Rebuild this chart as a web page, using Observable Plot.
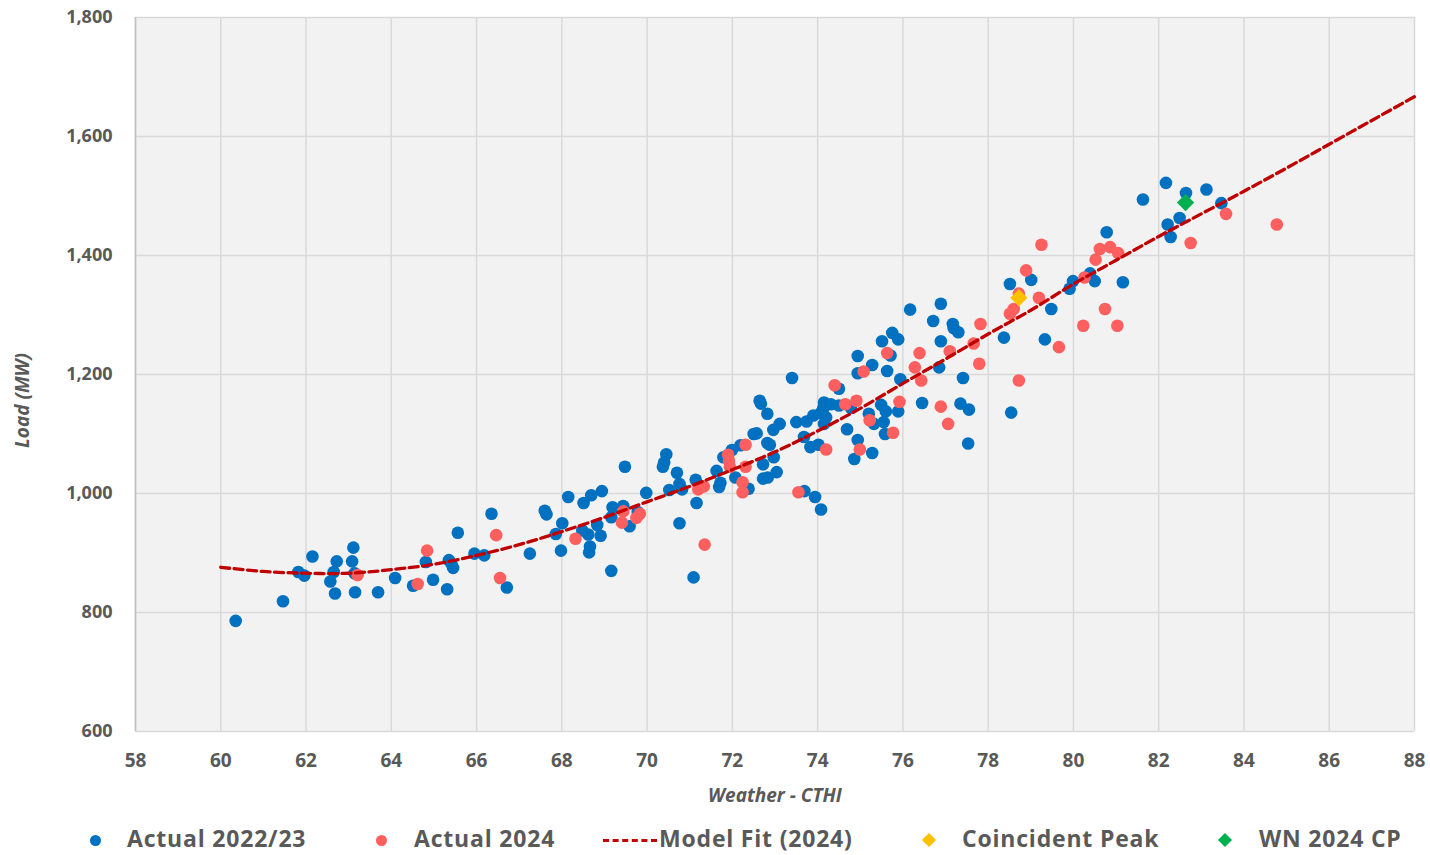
<!DOCTYPE html>
<html><head><meta charset="utf-8">
<script src="https://cdn.jsdelivr.net/npm/d3@7"></script>
<script src="https://cdn.jsdelivr.net/npm/@observablehq/plot@0.6"></script>
<style>
body{margin:0;background:#fff;}
#wrap{position:relative;width:1430px;height:855px;font-family:"Liberation Sans Narrow","Open Sans",sans-serif;}
#legend{position:absolute;left:0;top:815px;width:1430px;height:40px;}
.lt{position:absolute;top:8px;height:31px;line-height:31px;font-size:23px;letter-spacing:0.8px;font-weight:bold;color:#595959;white-space:nowrap;}
.lm{position:absolute;}
</style>
</head><body>
<div id="wrap"><div id="chart"></div><div id="legend"></div></div>
<script>
// Actual 2022/23
const a22x = [60.35,61.46,61.82,61.96,62.15,62.72,62.65,62.57,62.68,63.11,63.08,63.14,63.15,63.69,64.09,64.51,64.81,64.98,65.31,65.35,65.41,65.45,65.56,65.95,66.18,66.35,66.71,67.25,67.60,67.64,67.86,68.01,67.98,68.15,68.51,68.69,68.94,68.48,68.62,68.83,68.91,68.66,68.64,69.16,69.19,69.16,69.44,69.59,69.48,69.78,69.98,70.45,70.40,70.37,70.70,70.52,70.76,70.82,70.76,71.09,71.14,71.16,71.63,71.69,71.72,71.79,71.99,72.07,72.19,72.38,72.50,72.57,72.64,72.67,72.82,72.96,73.11,72.72,72.88,72.82,72.97,73.04,72.72,72.83,73.40,73.50,73.74,73.90,74.07,74.20,74.15,73.68,73.83,74.02,74.15,74.31,74.13,74.50,74.50,74.78,74.69,74.94,74.86,73.69,73.94,74.08,74.94,74.94,75.28,75.20,75.32,75.28,75.49,75.60,75.55,75.58,75.89,75.63,75.51,75.75,75.89,75.71,75.94,76.17,76.45,76.71,76.89,76.89,76.85,77.17,77.19,77.30,77.35,77.55,77.41,77.53,78.37,78.51,79.01,79.48,79.33,78.54,79.91,79.99,80.39,80.50,81.16,80.78,81.63,82.17,82.64,83.12,83.47,82.49,82.21,82.28];
const a22y = [786,819,868,862,894,886,868,852,832,909,886,866,834,834,858,845,885,855,839,888,882,875,934,899,896,966,842,899,971,965,932,950,904,994,984,997,1004,938,931,947,929,911,901,870,977,960,979,945,1045,969,1001,1066,1052,1045,1035,1006,1016,1007,950,859,1023,984,1038,1011,1018,1061,1073,1027,1081,1008,1100,1101,1156,1151,1134,1107,1117,1049,1082,1085,1061,1036,1025,1027,1194,1120,1121,1131,1135,1128,1117,1095,1078,1082,1153,1150,1143,1176,1148,1144,1108,1090,1058,1004,994,973,1231,1202,1216,1134,1117,1068,1149,1138,1120,1100,1138,1206,1256,1270,1259,1232,1192,1309,1152,1290,1319,1256,1212,1285,1278,1271,1151,1141,1194,1084,1262,1352,1359,1310,1259,1136,1344,1357,1370,1357,1355,1439,1494,1522,1505,1511,1488,1463,1452,1431];
// Actual 2024
const a24x = [63.21,64.62,64.84,66.46,66.55,68.32,69.44,69.41,69.83,69.75,71.20,71.33,71.35,71.90,71.92,71.94,72.24,72.24,72.31,72.31,73.55,74.20,74.40,74.65,74.91,74.99,75.08,75.22,75.77,75.92,75.63,76.28,76.39,76.43,76.89,77.06,77.10,77.66,77.82,77.79,78.89,78.72,78.60,78.51,79.19,79.25,79.66,78.72,80.26,80.23,80.52,80.62,80.86,81.05,80.74,81.03,83.58,82.75,84.77];
const a24y = [863,848,904,930,858,924,970,951,966,959,1007,1012,914,1065,1055,1045,1019,1002,1045,1082,1002,1074,1182,1150,1156,1074,1205,1123,1102,1154,1236,1212,1236,1190,1146,1117,1239,1252,1285,1218,1375,1336,1310,1302,1329,1418,1246,1190,1363,1282,1393,1411,1414,1404,1310,1282,1470,1421,1452];
// Model Fit (2024)
const fitX = [60,61,62,63,64,65,66,67,68,69,70,71,72,73,74,75,76,77,78,79,80,81,82,83,84,85,86,87,88];
const fitY = [876,869,866,866,872,881,896,914,936,960,986,1012,1040,1070,1105,1143,1185,1226,1268,1308,1352,1392,1432,1470,1508,1547,1587,1627,1667];
// Coincident Peak, WN 2024 CP
const cpX = [78.72], cpY = [1329];
const wnX = [82.63], wnY = [1489];
// ticks
const xTicks = [58,60,62,64,66,68,70,72,74,76,78,80,82,84,86,88];
const yTicks = [600,800,1000,1200,1400,1600,1800];

const blue = a22x.map((x,i)=>({x, y:a22y[i]}));
const red = a24x.map((x,i)=>({x, y:a24y[i]}));
const fit = fitX.map((x,i)=>({x, y:fitY[i]}));
const cp = cpX.map((x,i)=>({x, y:cpY[i]}));
const wn = wnX.map((x,i)=>({x, y:wnY[i]}));

const FONT = '"Liberation Sans Narrow","Open Sans",sans-serif';
const chart = Plot.plot({
  width:1430, height:815,
  marginLeft:135, marginRight:16, marginTop:17, marginBottom:84,
  style:{fontFamily:FONT, fontSize:"18px", fontWeight:"bold", color:"#595959", background:"#fff", overflow:"visible"},
  x:{domain:[58,88]},
  y:{domain:[600,1800]},
  marks:[
    Plot.frame({fill:"#f2f2f2", stroke:null}),
    Plot.gridX(xTicks, {stroke:"#d9d9d9", strokeOpacity:1, strokeWidth:1.5}),
    Plot.gridY(yTicks, {stroke:"#d9d9d9", strokeOpacity:1, strokeWidth:1.5}),
    Plot.ruleX([58], {stroke:"#bfbfbf", strokeWidth:1.5}),
    Plot.axisX(xTicks, {tickSize:0, tickPadding:22, fontSize:19, tickFormat:d=>String(d), label:"Weather - CTHI", labelAnchor:"center", labelOffset:70, labelArrow:"none"}),
    Plot.axisY(yTicks, {tickSize:0, tickPadding:23, fontSize:18, tickFormat:d3.format(","), label:"Load (MW)", labelAnchor:"center", labelOffset:120, labelArrow:"none"}),
    Plot.dot(blue, {x:"x", y:"y", r:6.3, fill:"#0070c0", stroke:null}),
    Plot.dot(red, {x:"x", y:"y", r:6.3, fill:"#ff5f5f", stroke:null}),
    Plot.line(fit, {x:"x", y:"y", stroke:"#c00000", strokeWidth:3.3, strokeDasharray:"9,4.5", curve:"catmull-rom"}),
    Plot.dot(cp, {x:"x", y:"y", r:7.8, symbol:"diamond2", fill:"#ffc000", stroke:null}),
    Plot.dot(wn, {x:"x", y:"y", r:7.8, symbol:"diamond2", fill:"#00b050", stroke:null})
  ]
});
document.getElementById("chart").appendChild(chart);
chart.querySelectorAll('[aria-label="x-axis label"] text, [aria-label="y-axis label"] text').forEach(t=>{t.style.fontStyle="italic"; t.setAttribute("font-size","19");});
const yl = chart.querySelector('[aria-label="y-axis label"]');
if (yl) yl.setAttribute("transform", (yl.getAttribute("transform")||"") + " translate(0,26)");

// legend
const legendItems = [
  {label:"Actual 2022/23", kind:"dot", color:"#0070c0", mx:95, tx:127},
  {label:"Actual 2024", kind:"dot", color:"#ff5f5f", mx:381, tx:414},
  {label:"Model Fit (2024)", kind:"dash", color:"#c00000", mx:603, tx:659},
  {label:"Coincident Peak", kind:"diamond", color:"#ffc000", mx:929, tx:962},
  {label:"WN 2024 CP", kind:"diamond", color:"#00b050", mx:1225, tx:1259}
];
const MC = 25; // marker centre within legend strip
const lg = document.getElementById("legend");
legendItems.forEach(it=>{
  const m = document.createElement("div"); m.className="lm";
  if (it.kind==="dot"){ Object.assign(m.style,{left:(it.mx-5.5)+"px",top:(MC-5.5)+"px",width:"11px",height:"11px",borderRadius:"50%",background:it.color}); }
  else if (it.kind==="dash"){ Object.assign(m.style,{left:it.mx+"px",top:(MC-1.5)+"px",width:"54px",height:"0",borderTop:"3px dashed "+it.color}); }
  else { Object.assign(m.style,{left:(it.mx-5)+"px",top:(MC-5)+"px",width:"10px",height:"10px",background:it.color,transform:"rotate(45deg)"}); }
  lg.appendChild(m);
  const t = document.createElement("div"); t.className="lt"; t.style.left=it.tx+"px"; t.textContent=it.label;
  lg.appendChild(t);
});
</script>
</body></html>
